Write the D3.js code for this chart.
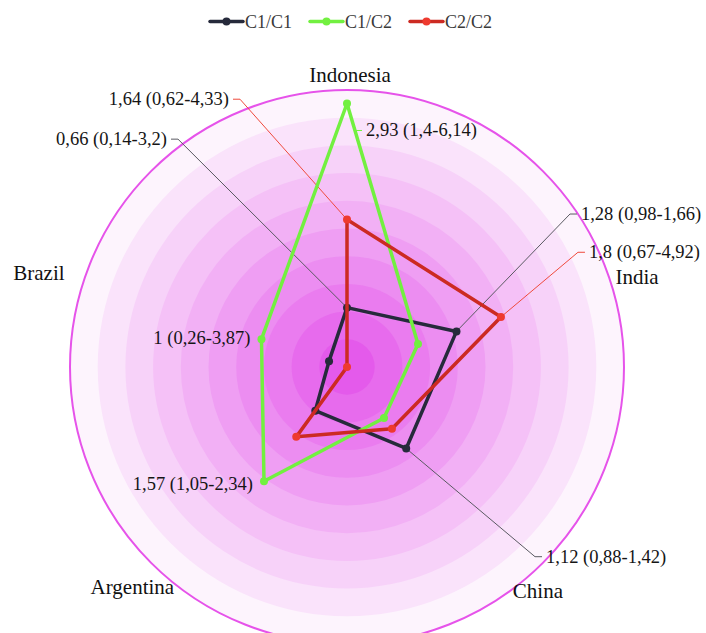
<!DOCTYPE html>
<html>
<head>
<meta charset="utf-8">
<script src="https://cdn.jsdelivr.net/npm/d3@7"></script>
<style>
  html, body { margin: 0; padding: 0; background: #ffffff; }
  svg { display: block; font-family: "Liberation Serif", "Times New Roman", serif; }
</style>
</head>
<body>
<svg id="chart" width="706" height="633"></svg>
<script>
// ---------------- data ----------------
const countries = ["Indonesia", "India", "China", "Argentina", "Brazil"];
const seriesNames = ["C1/C1", "C1/C2", "C2/C2"];
const valuesC1C1 = [0.66, 1.28, 1.12, 0.60, 0.21];
const valuesC1C2 = [2.93, 0.83, 0.70, 1.57, 1.00];
const valuesC2C2 = [1.64, 1.80, 0.85, 0.96, 0.00];
const radialMax = 3.08;

// value labels: [series index, country index, text]
const labelSeries  = [0, 0, 0, 1, 1, 1, 2, 2];
const labelCountry = [0, 1, 2, 0, 3, 4, 0, 1];
const labelTexts = [
  "0,66 (0,14-3,2)",
  "1,28 (0,98-1,66)",
  "1,12 (0,88-1,42)",
  "2,93 (1,4-6,14)",
  "1,57 (1,05-2,34)",
  "1 (0,26-3,87)",
  "1,64 (0,62-4,33)",
  "1,8 (0,67-4,92)"
];

// ---------------- layout / style ----------------
const W = 706, H = 633;
const cx = 347, cy = 367, R = 277;
const bandCount = 10;
const lineColors  = ["#262a3b", "#72f040", "#cc2a22"];
const pointColors = ["#262a3b", "#72f040", "#ee3a2f"];
const leaderColors = ["#5a5a62", "#72f040", "#ef4a3c"];
// leader elbow offsets from the data point, and side (+1 right, -1 left); showLine
const labelLayout = [
  { dx: -169, dy: -168.5, side: -1, line: true },
  { dx: 113.5, dy: -117.4, side: 1, line: true },
  { dx: 128.8, dy: 108.2, side: 1, line: true },
  { dx: 8, dy: 27, side: 1, line: true },
  { dx: 0, dy: 3, side: -1, line: false },
  { dx: 0, dy: -1, side: -1, line: false },
  { dx: -107, dy: -120.3, side: -1, line: true },
  { dx: 77, dy: -64.7, side: 1, line: true }
];
// axis-name offsets from the axis end point on the outer circle
const nameLayout = [
  { dx: 3, dy: -8, anchor: "middle" },
  { dx: 5, dy: 3, anchor: "start" },
  { dx: 3, dy: 7, anchor: "start" },
  { dx: -10, dy: 3, anchor: "end" },
  { dx: -19, dy: -1, anchor: "end" }
];

const svg = d3.select("#chart");
svg.append("rect").attr("width", W).attr("height", H).attr("fill", "#ffffff");

const rScale = d3.scaleLinear().domain([0, radialMax]).range([0, R]);
const aScale = d3.scaleBand().domain(countries).range([0, 2 * Math.PI]);
const angleOf = c => aScale(c);
const pt = (c, v) => {
  const a = angleOf(c), r = rScale(v);
  return [cx + r * Math.sin(a), cy - r * Math.cos(a)];
};

const g = svg.append("g");

// concentric split areas
const bandColor = d3.interpolateRgb("#e45aeb", "#fdf4fd");
const bandTicks = d3.range(bandCount, 0, -1); // outer first
g.selectAll("circle.band").data(bandTicks).join("circle")
  .attr("class", "band")
  .attr("cx", cx).attr("cy", cy)
  .attr("r", d => R * d / bandCount)
  .attr("fill", d => bandColor((d - 1) / (bandCount - 1)));

// outer circle
g.append("circle").attr("cx", cx).attr("cy", cy).attr("r", R)
  .attr("fill", "none").attr("stroke", "#e653ea").attr("stroke-width", 2);

const allSeries = [valuesC1C1, valuesC1C2, valuesC2C2];

// leader lines (below series)
const leaderG = g.append("g");
labelTexts.forEach((t, i) => {
  const s = labelSeries[i], ci = labelCountry[i];
  const p = pt(countries[ci], allSeries[s][ci]);
  const L = labelLayout[i];
  const ex = p[0] + L.dx, ey = p[1] + L.dy;
  if (L.line) {
    leaderG.append("polyline")
      .attr("points", `${p[0]},${p[1]} ${ex},${ey} ${ex + L.side * 7},${ey}`)
      .attr("fill", "none").attr("stroke", leaderColors[s]).attr("stroke-width", 1);
  }
});

// series polygons
const radial = d3.lineRadial()
  .angle((d, i) => angleOf(countries[i]))
  .radius(d => rScale(d))
  .curve(d3.curveLinearClosed);

allSeries.forEach((vals, s) => {
  const sg = g.append("g").attr("transform", `translate(${cx},${cy})`);
  sg.append("path").attr("d", radial(vals))
    .attr("fill", "none").attr("stroke", lineColors[s])
    .attr("stroke-width", 3.5).attr("stroke-linejoin", "round");
  sg.selectAll("circle").data(vals).join("circle")
    .attr("cx", (d, i) => rScale(d) * Math.sin(angleOf(countries[i])))
    .attr("cy", (d, i) => -rScale(d) * Math.cos(angleOf(countries[i])))
    .attr("r", 4).attr("fill", pointColors[s]);
});

// value labels
labelTexts.forEach((t, i) => {
  const s = labelSeries[i], ci = labelCountry[i];
  const p = pt(countries[ci], allSeries[s][ci]);
  const L = labelLayout[i];
  let ex = p[0] + L.dx, ey = p[1] + L.dy;
  let tx = L.line ? ex + L.side * 11 : ex + L.side * 11;
  g.append("text").attr("x", tx).attr("y", ey + 6)
    .attr("text-anchor", L.side > 0 ? "start" : "end")
    .attr("font-size", 18.5).attr("fill", "#151515").text(t);
});

// axis names
countries.forEach((c, i) => {
  const p = pt(c, radialMax);
  const L = nameLayout[i];
  g.append("text").attr("x", p[0] + L.dx).attr("y", p[1] + L.dy)
    .attr("text-anchor", L.anchor).attr("font-size", 21)
    .attr("fill", "#111").text(c);
});

// legend
const legX = d3.scalePoint().domain(seriesNames).range([210, 410]);
const leg = svg.append("g");
seriesNames.forEach((n, s) => {
  const x = legX(n);
  leg.append("line").attr("x1", x).attr("x2", x + 33).attr("y1", 21.5).attr("y2", 21.5)
    .attr("stroke", lineColors[s]).attr("stroke-width", 3.5).attr("stroke-linecap", "round");
  leg.append("circle").attr("cx", x + 16.5).attr("cy", 21.5).attr("r", 4).attr("fill", pointColors[s]);
  leg.append("text").attr("x", x + 35).attr("y", 27.5).attr("font-size", 18)
    .attr("fill", "#3a3a3a").text(n);
});
</script>
</body>
</html>
